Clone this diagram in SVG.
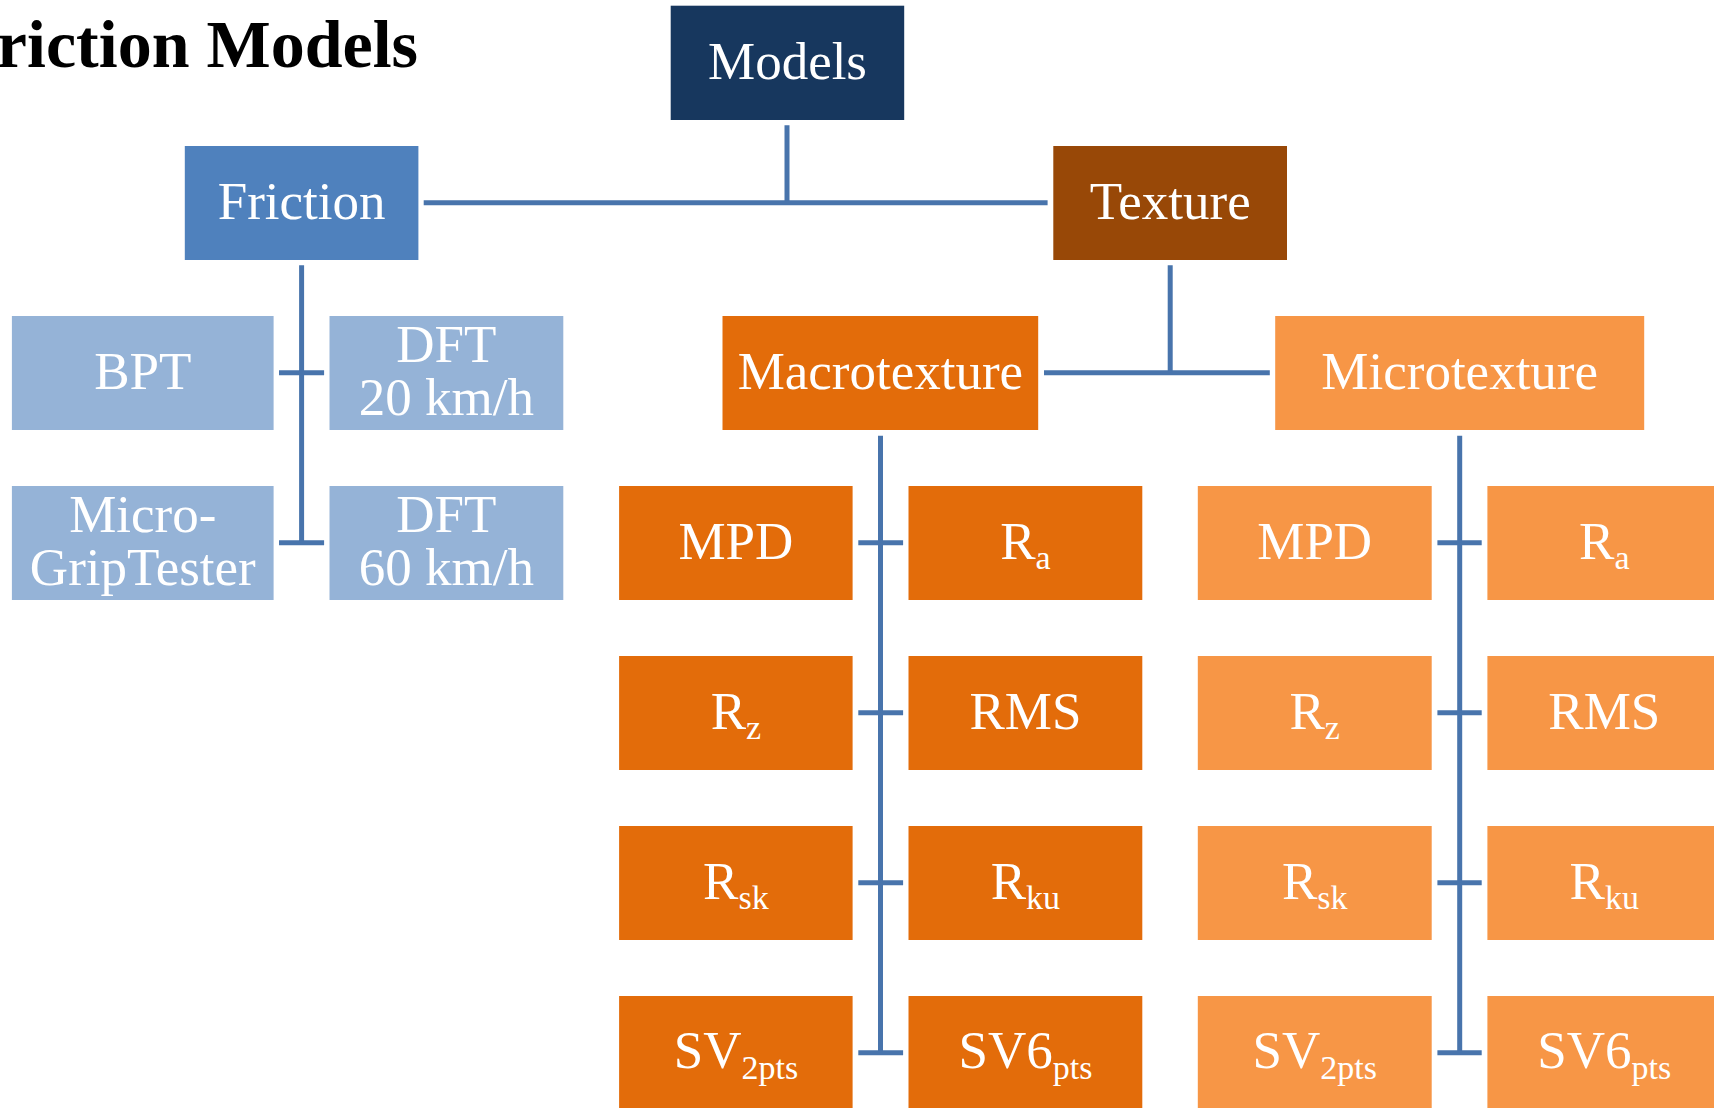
<svg xmlns="http://www.w3.org/2000/svg" width="1714" height="1108" viewBox="0 0 1714 1108">
<style>
.t{font-family:"Liberation Serif","Times New Roman",serif;font-size:53px;fill:#ffffff;text-anchor:middle}
.s{font-size:34px}
.ln{stroke:#4874AC;stroke-width:5;fill:none}
.navy{fill:#17375E}.blue{fill:#4F81BD}.brown{fill:#984807}.lb{fill:#95B3D7}.or{fill:#E36C0A}.lo{fill:#F79646}
.title{font-family:"Liberation Serif","Times New Roman",serif;font-size:68px;font-weight:bold;fill:#000;text-anchor:end}
</style>
<rect width="1714" height="1108" fill="#ffffff"/>
<text class="title" x="418" y="66.7">riction Models</text>
<g id="connectors">
<path class="ln" d="M787 125.3V203M423.7 202.7H1047.6"/>
<path class="ln" d="M301.6 265.3V543M279 372.7H324.1M279 542.7H324.1"/>
<path class="ln" d="M1170.2 265.3V372.7M1044 372.7H1269.8"/>
<path class="ln" d="M880.5 435.7V1053M858.3 542.7H903.1M858.3 712.7H903.1M858.3 882.7H903.1M858.3 1052.7H903.1"/>
<path class="ln" d="M1459.7 435.7V1053M1437.4 542.7H1481.7M1437.4 712.7H1481.7M1437.4 882.7H1481.7M1437.4 1052.7H1481.7"/>
</g>
<g id="models"><rect class="navy" x="670.7" y="5.7" width="233.5" height="114.3"/><text class="t" x="787.5" y="79.3">Models</text></g>
<g id="friction"><rect class="blue" x="184.8" y="146" width="233.6" height="114"/><text class="t" x="301.6" y="219">Friction</text></g>
<g id="texture"><rect class="brown" x="1053.3" y="146" width="233.7" height="114"/><text class="t" x="1170.2" y="219">Texture</text></g>
<g id="bpt"><rect class="lb" x="11.9" y="316" width="261.7" height="114"/><text class="t" x="142.8" y="389">BPT</text></g>
<g id="dft20"><rect class="lb" x="329.5" y="316" width="233.8" height="114"/><text class="t" x="446.4" y="362">DFT</text><text class="t" x="446.4" y="415.3">20 km/h</text></g>
<g id="microgrip"><rect class="lb" x="11.9" y="486" width="261.7" height="114"/><text class="t" x="142.8" y="532.3">Micro-</text><text class="t" x="142.8" y="585.3">GripTester</text></g>
<g id="dft60"><rect class="lb" x="329.5" y="486" width="233.8" height="114"/><text class="t" x="446.4" y="532.3">DFT</text><text class="t" x="446.4" y="585.3">60 km/h</text></g>
<g id="macrotexture"><rect class="or" x="722.5" y="316" width="315.7" height="114"/><text class="t" x="880.4" y="389">Macrotexture</text></g>
<g id="microtexture"><rect class="lo" x="1275.2" y="316" width="369" height="114"/><text class="t" x="1459.7" y="389">Microtexture</text></g>
<g id="macro-mpd"><rect class="or" x="619.1" y="486" width="233.5" height="114"/><text class="t" x="735.9" y="559.3">MPD</text></g>
<g id="macro-ra"><rect class="or" x="908.5" y="486" width="233.8" height="114"/><text class="t" x="1025.4" y="559.3">R<tspan class="s" dy="10">a</tspan></text></g>
<g id="macro-rz"><rect class="or" x="619.1" y="656" width="233.5" height="114"/><text class="t" x="735.9" y="729.3">R<tspan class="s" dy="10">z</tspan></text></g>
<g id="macro-rms"><rect class="or" x="908.5" y="656" width="233.8" height="114"/><text class="t" x="1025.4" y="729.3">RMS</text></g>
<g id="macro-rsk"><rect class="or" x="619.1" y="826" width="233.5" height="114"/><text class="t" x="735.9" y="899.3">R<tspan class="s" dy="10">sk</tspan></text></g>
<g id="macro-rku"><rect class="or" x="908.5" y="826" width="233.8" height="114"/><text class="t" x="1025.4" y="899.3">R<tspan class="s" dy="10">ku</tspan></text></g>
<g id="macro-sv2"><rect class="or" x="619.1" y="996" width="233.5" height="114"/><text class="t" x="735.9" y="1068.3">SV<tspan class="s" dy="11">2pts</tspan></text></g>
<g id="macro-sv6"><rect class="or" x="908.5" y="996" width="233.8" height="114"/><text class="t" x="1025.4" y="1068.3">SV6<tspan class="s" dy="11">pts</tspan></text></g>
<g id="micro-mpd"><rect class="lo" x="1197.8" y="486" width="233.9" height="114"/><text class="t" x="1314.7" y="559.3">MPD</text></g>
<g id="micro-ra"><rect class="lo" x="1487.4" y="486" width="233.8" height="114"/><text class="t" x="1604.3" y="559.3">R<tspan class="s" dy="10">a</tspan></text></g>
<g id="micro-rz"><rect class="lo" x="1197.8" y="656" width="233.9" height="114"/><text class="t" x="1314.7" y="729.3">R<tspan class="s" dy="10">z</tspan></text></g>
<g id="micro-rms"><rect class="lo" x="1487.4" y="656" width="233.8" height="114"/><text class="t" x="1604.3" y="729.3">RMS</text></g>
<g id="micro-rsk"><rect class="lo" x="1197.8" y="826" width="233.9" height="114"/><text class="t" x="1314.7" y="899.3">R<tspan class="s" dy="10">sk</tspan></text></g>
<g id="micro-rku"><rect class="lo" x="1487.4" y="826" width="233.8" height="114"/><text class="t" x="1604.3" y="899.3">R<tspan class="s" dy="10">ku</tspan></text></g>
<g id="micro-sv2"><rect class="lo" x="1197.8" y="996" width="233.9" height="114"/><text class="t" x="1314.7" y="1068.3">SV<tspan class="s" dy="11">2pts</tspan></text></g>
<g id="micro-sv6"><rect class="lo" x="1487.4" y="996" width="233.8" height="114"/><text class="t" x="1604.3" y="1068.3">SV6<tspan class="s" dy="11">pts</tspan></text></g>
</svg>
